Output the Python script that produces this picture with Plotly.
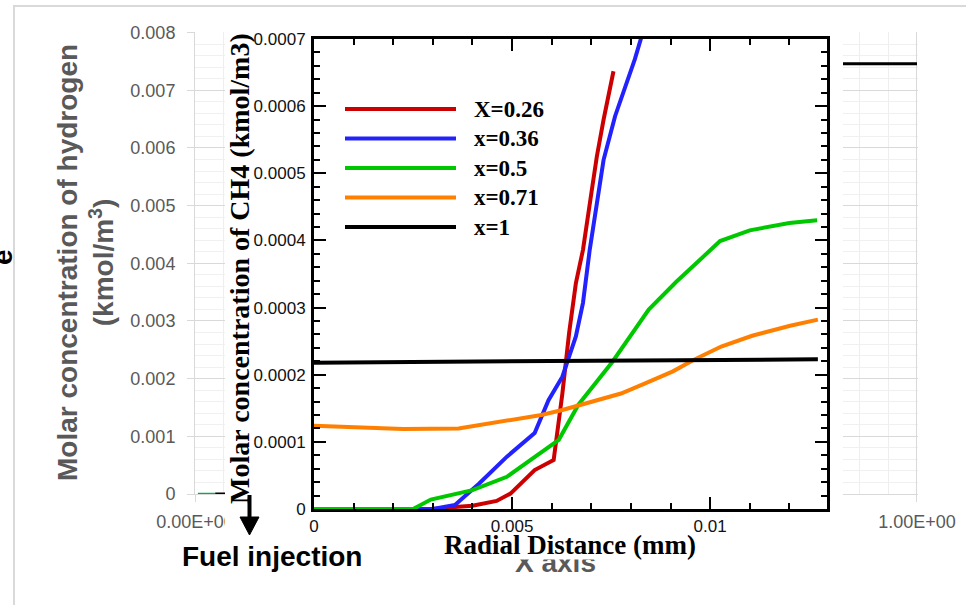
import plotly.graph_objects as go

W, H = 966, 605

# ---------------- CH4 profiles (Tecplot-style panel) ----------------
series_names = ["X=0.26", "x=0.36", "x=0.5", "x=0.71", "x=1"]
series_colors = ["#cc0000", "#2222ff", "#00c800", "#ff8000", "#000000"]

r_026 = [0, 0.001, 0.002, 0.003, 0.00356, 0.0040, 0.00461, 0.00496, 0.00557,
         0.00605, 0.00627, 0.00644, 0.00661, 0.00679, 0.0070, 0.00714, 0.00731,
         0.00747, 0.00756]
c_026 = [0, 0, 0, 0, 0.000003, 0.000005, 0.000012, 0.000023, 0.000058,
         0.000073, 0.000172, 0.000262, 0.000336, 0.000386, 0.00047, 0.000525,
         0.00058, 0.000629, 0.000652]

r_036 = [0, 0.001, 0.002, 0.003, 0.00356, 0.00417, 0.00487, 0.00557, 0.00592,
         0.00627, 0.00661, 0.00679, 0.00696, 0.00731, 0.0076, 0.0079, 0.0081,
         0.0083]
c_036 = [0, 0, 0, 0, 0.000006, 0.000038, 0.000078, 0.000113, 0.000162,
         0.000197, 0.000257, 0.000307, 0.000386, 0.00052, 0.000585, 0.000634,
         0.00067, 0.00071]

r_050 = [0, 0.001, 0.002, 0.0025, 0.00295, 0.0040, 0.00487, 0.00583, 0.00618,
         0.00667, 0.00753, 0.00845, 0.00914, 0.01025, 0.0110, 0.0120, 0.0127]
c_050 = [0, 0, 0, 0, 0.000014, 0.000028, 0.000048, 0.000088, 0.000103,
         0.000155, 0.000219, 0.000297, 0.000338, 0.000399, 0.000415, 0.000426,
         0.00043]

r_071 = [0, 0.00225, 0.00365, 0.00504, 0.00574, 0.00627, 0.00705, 0.00775,
         0.00836, 0.00906, 0.00958, 0.01028, 0.01106, 0.01202, 0.01272]
c_071 = [0.000124, 0.000119, 0.00012, 0.000133, 0.00014, 0.0001475, 0.00016,
         0.000172, 0.000187, 0.000205, 0.000222, 0.000242, 0.000258, 0.000273,
         0.000282]

r_100 = [0, 0.0035, 0.007, 0.0094, 0.0112, 0.01272]
c_100 = [0.000218, 0.000219, 0.00022, 0.000221, 0.000222, 0.000223]

ch4_x = [r_026, r_036, r_050, r_071, r_100]
ch4_y = [c_026, c_036, c_050, c_071, c_100]

ch4_xtick_vals = [0, 0.005, 0.01]
ch4_xtick_text = ["0", "0.005", "0.01"]
ch4_ytick_vals = [0, 0.0001, 0.0002, 0.0003, 0.0004, 0.0005, 0.0006, 0.0007]
ch4_ytick_text = ["0", "0.0001", "0.0002", "0.0003", "0.0004", "0.0005",
                  "0.0006", "0.0007"]

# ---------------- hydrogen chart (spreadsheet-style backdrop) ----------------
h2_green_x = [0.004, 0.028]
h2_green_y = [0, 0]
h2_black_x = [0.028, 0.045, 0.1, 1.0]
h2_black_y = [0, 0, 0.00746, 0.00746]

h2_xtick_vals = [0, 1]
h2_xtick_text = ["0.00E+00", "1.00E+00"]
h2_ytick_vals = [0, 0.001, 0.002, 0.003, 0.004, 0.005, 0.006, 0.007, 0.008]
h2_ytick_text = ["0", "0.001", "0.002", "0.003", "0.004", "0.005", "0.006",
                 "0.007", "0.008"]


def px(x):
    return x / W


def py(y):
    return 1 - y / H


GRAY = "#595959"
SANS = "Liberation Sans"
SERIF = "Liberation Serif"

fig = go.Figure()

# backdrop chart: visible left and right strips of the same plot
for xa, ya in (("x", "y"), ("x2", "y2")):
    fig.add_trace(go.Scatter(x=h2_green_x, y=h2_green_y, mode="lines",
                             line=dict(color="#00b050", width=2.5),
                             xaxis=xa, yaxis=ya, showlegend=False,
                             hoverinfo="skip", cliponaxis=False))
    fig.add_trace(go.Scatter(x=h2_black_x, y=h2_black_y, mode="lines",
                             line=dict(color="#000000", width=3),
                             xaxis=xa, yaxis=ya, showlegend=False,
                             hoverinfo="skip"))

# CH4 curves
for xs, ys, name, col in zip(ch4_x, ch4_y, series_names, series_colors):
    fig.add_trace(go.Scatter(x=xs, y=ys, mode="lines", name=name,
                             line=dict(color=col, width=4),
                             xaxis="x3", yaxis="y3", showlegend=False))

h2_ydom = [py(494), py(32)]
h2_xbase = dict(
    showline=True, linecolor="#d9d9d9", linewidth=1,
    ticks="outside", ticklen=7, tickcolor="#d9d9d9",
    tickmode="array", tickvals=h2_xtick_vals, ticktext=h2_xtick_text,
    tickfont=dict(family=SANS, size=18, color=GRAY), ticklabelstandoff=4,
    showgrid=True, gridcolor="#d9d9d9", gridwidth=1,
    minor=dict(dtick=0.04, tick0=0, showgrid=True, gridcolor="#eeeeee",
               ticks=""),
    zeroline=False, fixedrange=True, automargin=False, layer="below traces",
)
h2_ybase = dict(
    domain=h2_ydom, range=[0, 0.00801],
    tickmode="array", tickvals=h2_ytick_vals, ticktext=h2_ytick_text,
    showgrid=True, gridcolor="#d9d9d9", gridwidth=1,
    minor=dict(dtick=0.0002, tick0=0, showgrid=True, gridcolor="#f0f0f0",
               ticks=""),
    zeroline=False, fixedrange=True, automargin=False, layer="below traces",
)

ch4_common = dict(
    showline=True, linecolor="black", linewidth=3, mirror="allticks",
    ticks="inside", ticklen=12, tickwidth=2, tickcolor="black",
    tickfont=dict(family=SANS, size=17, color="#111111"),
    showgrid=False, zeroline=False, fixedrange=True, automargin=False,
)

fig.update_layout(
    width=W, height=H,
    margin=dict(l=0, r=0, t=0, b=0, pad=0, autoexpand=False),
    paper_bgcolor="white", plot_bgcolor="rgba(0,0,0,0)",
    showlegend=False,
    xaxis=dict(domain=[px(195), px(225)], range=[0, 30 / 722], anchor="y",
               **h2_xbase),
    yaxis=dict(anchor="x", showline=True, linecolor="#d9d9d9", linewidth=1,
               ticks="outside", ticklen=7, tickcolor="#d9d9d9",
               ticklabelstandoff=8,
               tickfont=dict(family=SANS, size=18, color=GRAY), **h2_ybase),
    xaxis2=dict(domain=[px(843), px(918)], range=[648 / 722, 1.0014],
                anchor="y2", **h2_xbase),
    yaxis2=dict(anchor="x2", showline=False, ticks="", showticklabels=False,
                **h2_ybase),
    xaxis3=dict(domain=[px(314), px(827)], range=[0, 0.01295], anchor="y3",
                tickmode="array", tickvals=ch4_xtick_vals,
                ticktext=ch4_xtick_text,
                minor=dict(ticks="inside", ticklen=6, tickwidth=1.5,
                           tickcolor="black", dtick=0.001, tick0=0,
                           showgrid=False),
                **ch4_common),
    yaxis3=dict(domain=[py(509), py(39)], range=[0, 0.0007], anchor="x3",
                tickmode="array", tickvals=ch4_ytick_vals,
                ticktext=ch4_ytick_text, ticklabelstandoff=2,
                minor=dict(ticks="inside", ticklen=6, tickwidth=1.5,
                           tickcolor="black", dtick=0.00002, tick0=0,
                           showgrid=False),
                **ch4_common),
)

shapes = []
# chart-area frame
shapes.append(dict(type="rect", xref="paper", yref="paper",
                   x0=px(14), x1=px(980), y0=py(620), y1=py(6),
                   line=dict(color="#d9d9d9", width=2), layer="below"))
# the CH4 panel sits over the tail of the first backdrop tick label
shapes.append(dict(type="rect", xref="paper", yref="paper",
                   x0=px(225), x1=px(237), y0=py(536), y1=py(510),
                   fillcolor="white", line=dict(width=0), layer="above"))

# legend of the CH4 panel
leg_y0, leg_dy = 109, 29.5
annotations = []
for i, (name, col) in enumerate(zip(series_names, series_colors)):
    yy = leg_y0 + i * leg_dy
    shapes.append(dict(type="line", xref="paper", yref="paper",
                       x0=px(345), x1=px(456), y0=py(yy), y1=py(yy),
                       line=dict(color=col, width=4), layer="above"))

# fuel injection arrow
shapes.append(dict(type="line", xref="paper", yref="paper",
                   x0=px(249.5), x1=px(249.5), y0=py(495), y1=py(519),
                   line=dict(color="black", width=4), layer="above"))
shapes.append(dict(type="path", xref="paper", yref="paper",
                   path=f"M {px(240)} {py(517)} L {px(259)} {py(517)} "
                        f"L {px(249.5)} {py(535)} Z",
                   fillcolor="black", line=dict(color="black", width=1),
                   layer="above"))

# backdrop axis titles
annotations.append(dict(
    text="<b>Molar concentration of hydrogen<br>(kmol/m<sup>3</sup>)</b>",
    xref="paper", yref="paper", x=px(85), y=py(263), xanchor="center",
    yanchor="middle", textangle=-90, showarrow=False,
    font=dict(family=SANS, size=28, color=GRAY)))
annotations.append(dict(
    text="<b>e</b>", xref="paper", yref="paper", x=px(2), y=py(257),
    xanchor="center", yanchor="middle", textangle=-90, showarrow=False,
    font=dict(family=SANS, size=28, color="black")))
annotations.append(dict(
    text="<b>X axis</b>", xref="paper", yref="paper", x=px(555), y=py(562),
    xanchor="center", yanchor="middle", showarrow=False,
    font=dict(family=SANS, size=28, color=GRAY)))
# lower edge of the CH4 panel hides the top of that title
annotations.append(dict(
    text=" ", xref="paper", yref="paper", x=px(555), y=py(546),
    xanchor="center", yanchor="middle", showarrow=False,
    width=150, height=26, borderpad=0, bgcolor="white",
    font=dict(size=10)))

# CH4 panel titles
annotations.append(dict(
    text="<b>Molar concentration of CH4 (kmol/m3)</b>",
    xref="paper", yref="paper", x=px(239), y=py(269), xanchor="center",
    yanchor="middle", textangle=-90, showarrow=False,
    font=dict(family=SERIF, size=28, color="black")))
annotations.append(dict(
    text="<b>Radial Distance (mm)</b>",
    xref="paper", yref="paper", x=px(570), y=py(545), xanchor="center",
    yanchor="middle", showarrow=False,
    font=dict(family=SERIF, size=27, color="black")))

for i, name in enumerate(series_names):
    yy = leg_y0 + i * leg_dy
    annotations.append(dict(
        text=f"<b>{name}</b>", xref="paper", yref="paper", x=px(472),
        y=py(yy), xanchor="left", yanchor="middle", showarrow=False,
        font=dict(family=SERIF, size=23, color="black")))

annotations.append(dict(
    text="<b>Fuel injection</b>", xref="paper", yref="paper", x=px(272),
    y=py(556), xanchor="center", yanchor="middle", showarrow=False,
    font=dict(family=SANS, size=28, color="black")))

fig.update_layout(shapes=shapes, annotations=annotations)

fig.write_html("out.html")
